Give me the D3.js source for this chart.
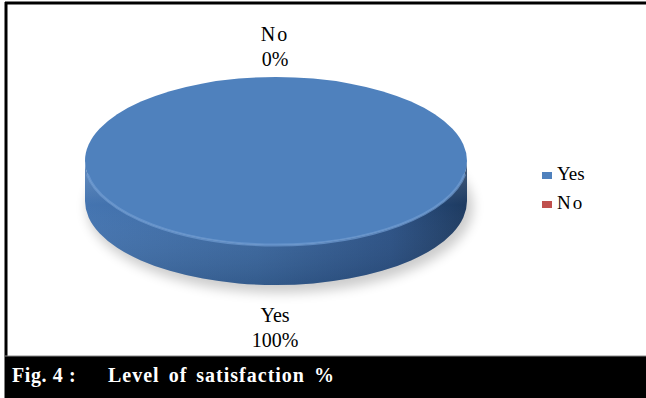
<!DOCTYPE html>
<html>
<head>
<meta charset="utf-8">
<script src="https://cdn.jsdelivr.net/npm/d3@7"></script>
<style>
  html, body { margin: 0; padding: 0; background: #fff; }
  svg text { font-family: "Liberation Serif", "Times New Roman", Times, serif; }
</style>
</head>
<body>
<div class="chart"></div>
<script>
const categories = ['Yes', 'No'];
const values = [100, 0];
const percentLabels = ['100%', '0%'];
const colors = ['#4f81bd', '#c0504d'];
const caption = ['Fig. 4 :', 'Level of satisfaction %'];

const width = 646, height = 398;
const cx = 276, cy = 161, rx = 191, ry = 84, depth = 40;
const serif = 'Liberation Serif';

const svg = d3.select('.chart')
    .append('svg')
    .attr('width', width)
    .attr('height', height);

const defs = svg.append('defs');

defs.append('filter')
    .attr('id', 'blur')
    .attr('x', '-20%').attr('y', '-50%')
    .attr('width', '140%').attr('height', '200%')
    .append('feGaussianBlur')
    .attr('stdDeviation', 6);

const sideGrad = defs.append('linearGradient')
    .attr('id', 'side')
    .attr('x1', 0).attr('x2', 1).attr('y1', 0).attr('y2', 0);
sideGrad.append('stop').attr('offset', '0%').attr('stop-color', '#4474b0');
sideGrad.append('stop').attr('offset', '45%').attr('stop-color', '#3a679f');
sideGrad.append('stop').attr('offset', '80%').attr('stop-color', '#2b5185');
sideGrad.append('stop').attr('offset', '100%').attr('stop-color', '#1d3a60');

const sideShade = defs.append('linearGradient')
    .attr('id', 'sideShade')
    .attr('x1', 0).attr('x2', 0).attr('y1', 0).attr('y2', 1);
sideShade.append('stop').attr('offset', '0%').attr('stop-color', '#ffffff').attr('stop-opacity', 0.2);
sideShade.append('stop').attr('offset', '35%').attr('stop-color', '#ffffff').attr('stop-opacity', 0.0);
sideShade.append('stop').attr('offset', '100%').attr('stop-color', '#000000').attr('stop-opacity', 0.12);

// frame
svg.append('line')
    .attr('x1', 5).attr('x2', width).attr('y1', 3).attr('y2', 3)
    .attr('stroke', '#000').attr('stroke-width', 3);
svg.append('line')
    .attr('x1', 6).attr('x2', 6).attr('y1', 2).attr('y2', height)
    .attr('stroke', '#000').attr('stroke-width', 3);

const pie = d3.pie().sort(null).value(d => d)(values);

const pt = (a, dy = 0) => [cx + rx * Math.sin(a), cy - ry * Math.cos(a) + dy];

// shadow
svg.append('ellipse')
    .attr('cx', cx + 4).attr('cy', cy + depth + 6)
    .attr('rx', rx + 2).attr('ry', ry + 2)
    .attr('fill', '#000').attr('opacity', 0.2)
    .attr('filter', 'url(#blur)');

const slices = pie.filter(d => d.endAngle - d.startAngle > 0);

// side walls
slices.forEach(d => {
    const s = Math.max(d.startAngle, Math.PI / 2);
    const e = Math.min(d.endAngle, Math.PI * 1.5);
    if (e <= s) return;
    const p0 = pt(s), p1 = pt(e);
    const large = e - s > Math.PI ? 1 : 0;
    const path = `M${p0}A${rx},${ry} 0 ${large} 1 ${p1}L${p1[0]},${p1[1] + depth}` +
        `A${rx},${ry} 0 ${large} 0 ${p0[0]},${p0[1] + depth}Z`;
    svg.append('path').attr('d', path).attr('fill', d.index === 0 ? 'url(#side)' : d3.color(colors[d.index]).darker(0.6));
    svg.append('path').attr('d', path).attr('fill', 'url(#sideShade)');
});

// top faces
slices.forEach(d => {
    let path;
    if (d.endAngle - d.startAngle >= Math.PI * 2 - 1e-6) {
        const t = pt(0), b = pt(Math.PI);
        path = `M${t}A${rx},${ry} 0 1 1 ${b}A${rx},${ry} 0 1 1 ${t}Z`;
    } else {
        const p0 = pt(d.startAngle), p1 = pt(d.endAngle);
        const large = d.endAngle - d.startAngle > Math.PI ? 1 : 0;
        path = `M${cx},${cy}L${p0}A${rx},${ry} 0 ${large} 1 ${p1}Z`;
    }
    svg.append('path').attr('d', path).attr('fill', colors[d.index]);
});

// bevel highlight on front rim
{
    const p0 = pt(Math.PI * 0.55), p1 = pt(Math.PI * 1.45);
    svg.append('path')
        .attr('d', `M${p0}A${rx},${ry} 0 0 1 ${p1}`)
        .attr('fill', 'none')
        .attr('stroke', '#6f9bd2')
        .attr('stroke-width', 3)
        .attr('opacity', 0.7);
}

// data labels
pie.forEach(d => {
    const mid = (d.startAngle + d.endAngle) / 2;
    const top = Math.cos(mid) > 0;
    const x = cx - 1;
    const y = top ? 41 : 322;
    const g = svg.append('text')
        .attr('text-anchor', 'middle')
        .attr('font-family', serif)
        .attr('font-size', 20)
        .attr('fill', '#000');
    g.append('tspan').attr('x', x).attr('y', y)
        .attr('letter-spacing', categories[d.index] === 'No' ? 2 : 0)
        .text(categories[d.index]);
    g.append('tspan').attr('x', x).attr('y', y + 25).text(percentLabels[d.index]);
});

// legend
const legend = svg.append('g').attr('transform', 'translate(542,172)');
categories.forEach((c, i) => {
    legend.append('rect')
        .attr('x', 0).attr('y', i * 29)
        .attr('width', 10).attr('height', 7)
        .attr('fill', colors[i]);
    legend.append('text')
        .attr('x', 15).attr('y', i * 29 + 8)
        .attr('font-family', serif)
        .attr('font-size', 19)
        .attr('letter-spacing', c === 'No' ? 2 : 0)
        .text(c);
});

// caption band
svg.append('rect')
    .attr('x', 5).attr('y', 356)
    .attr('width', width - 5).attr('height', height - 356)
    .attr('fill', '#000');
svg.append('line')
    .attr('x1', 5).attr('x2', width).attr('y1', 356).attr('y2', 356)
    .attr('stroke', '#888').attr('stroke-width', 1);

svg.append('text')
    .attr('x', 12).attr('y', 382)
    .attr('font-family', serif)
    .attr('font-size', 20).attr('font-weight', 'bold')
    .attr('fill', '#fff')
    .attr('letter-spacing', 0.6)
    .text(caption[0]);
svg.append('text')
    .attr('x', 108).attr('y', 382)
    .attr('font-family', serif)
    .attr('font-size', 20).attr('font-weight', 'bold')
    .attr('fill', '#fff')
    .attr('letter-spacing', 1)
    .attr('word-spacing', 3)
    .text(caption[1]);
</script>
</body>
</html>
